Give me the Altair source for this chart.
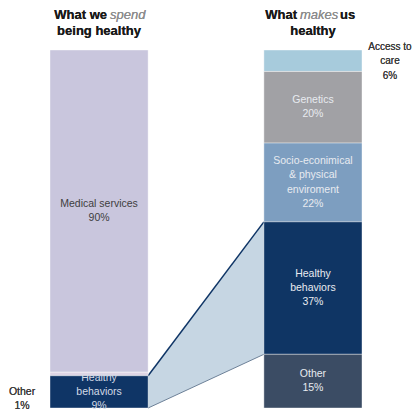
import altair as alt
import pandas as pd

# ---- data ----
left_categories = ["Medical services", "Other", "Healthy behaviors"]   # top -> bottom
left_values = [90, 1, 9]
left_labels = ["Medical services\n90%", "", "Healthy\nbehaviors\n9%"]
left_colors = ["#c9c6dd", "#ded5e5", "#0f3566"]
left_text_colors = ["#404040", "#ffffff", "#d3dbe7"]

right_categories = ["Access to care", "Genetics", "Socio-econimical & physical enviroment",
                    "Healthy behaviors", "Other"]                      # top -> bottom
right_values = [6, 20, 22, 37, 15]
right_labels = ["", "Genetics\n20%", "Socio-econimical\n& physical\nenviroment\n22%",
                "Healthy\nbehaviors\n37%", "Other\n15%"]
right_colors = ["#a7cbdc", "#a1a1a5", "#7d9ec0", "#0f3564", "#3b4c64"]

bar_pos = [0.0, 2.18]   # left edge of each bar, in bar-width units
bar_width = 1.0
LH = 14.3


def stack(cats, vals, labels, colors, x0, tcolors=None):
    rows = []
    top = sum(vals)
    for i, (c, v, l, col) in enumerate(zip(cats, vals, labels, colors)):
        rows.append(dict(cat=c, y=top - v, y2=top, mid=top - v / 2, label=l, color=col,
                         x=x0, x2=x0 + bar_width, xm=x0 + bar_width / 2,
                         nlines=(l.count("\n") + 1 if l else 0),
                         tcol=(tcolors[i] if tcolors else "#e8ebf0")))
        top -= v
    return rows


rows = stack(left_categories, left_values, left_labels, left_colors, bar_pos[0], left_text_colors)
rows += stack(right_categories, right_values, right_labels, right_colors, bar_pos[1])
df = pd.DataFrame(rows)

# connector between the two "Healthy behaviors" segments
lh = df[(df.cat == "Healthy behaviors") & (df.x == bar_pos[0])].iloc[0]
rh = df[(df.cat == "Healthy behaviors") & (df.x == bar_pos[1])].iloc[0]
conn = pd.DataFrame([
    dict(x=float(lh.x2), y=float(lh.y2), y2=float(lh.y)),
    dict(x=float(rh.x), y=float(rh.y2), y2=float(rh.y)),
])

xs = alt.Scale(domain=[0, bar_pos[1] + bar_width], range=[42, 354])
ys = alt.Scale(domain=[0, 100], range=[400, 42])
X = alt.X("x:Q", scale=xs, axis=None)
Y = alt.Y("y:Q", scale=ys, axis=None)

bars = alt.Chart(df).mark_rect(stroke="white", strokeWidth=0.4).encode(
    x=X, x2="x2:Q", y=Y, y2="y2:Q",
    color=alt.Color("color:N", scale=None),
)

area = alt.Chart(conn).mark_area(color="#c6d6e3", opacity=1).encode(x=X, y=Y, y2="y2:Q")
line_top = alt.Chart(conn).mark_line(color="#0f3566", strokeWidth=1.5).encode(x=X, y=Y)
line_bot = alt.Chart(conn).mark_line(color="#6d8198", strokeWidth=1).encode(
    x=X, y=alt.Y("y2:Q", scale=ys, axis=None))

label_layers = []
for n in sorted(set(df.nlines) - {0}):
    label_layers.append(
        alt.Chart(df[df.nlines == n]).mark_text(
            lineBreak="\n", fontSize=10.5, lineHeight=LH, font="Liberation Sans",
            baseline="middle", dy=-(n - 1) * LH / 2
        ).encode(
            x=alt.X("xm:Q", scale=xs, axis=None), y=alt.Y("mid:Q", scale=ys, axis=None),
            text="label:N", color=alt.Color("tcol:N", scale=None),
        )
    )


def annot(text, px, py, align="center", bold=False, italic=False, color="#3a3a3a", size=10.5):
    kw = dict(font="Liberation Sans", align=align, baseline="middle", fontSize=size,
              color=color)
    if "\n" in text:
        kw.update(lineBreak="\n", lineHeight=LH)
    if bold:
        kw["fontWeight"] = "bold"
    if italic:
        kw["fontStyle"] = "italic"
    return alt.Chart(conn).mark_text(**kw).encode(
        x=alt.value(px), y=alt.value(py), text=alt.value(text))


annots = [
    annot("Access to\ncare\n6%", 382, 39, size=10),
    annot("Other\n1%", 14, 384),
    annot("What we", 99, 7, align="right", bold=True, color="#1a1a1a", size=13),
    annot("spend", 102, 7, align="left", italic=True, color="#8c8c8c", size=13),
    annot("being healthy", 91, 22.5, bold=True, color="#1a1a1a", size=13),
    annot("What", 289, 7, align="right", bold=True, color="#1a1a1a", size=13),
    annot("makes", 292, 7, align="left", italic=True, color="#8c8c8c", size=13),
    annot("us", 332, 7, align="left", bold=True, color="#1a1a1a", size=13),
    annot("healthy", 305, 22.5, bold=True, color="#1a1a1a", size=13),
]

chart = alt.layer(area, line_bot, line_top, bars, *label_layers, *annots).properties(
    width=404, height=402, padding=0, autosize=alt.AutoSizeParams(type="none")
).configure_view(stroke=None)

chart.save("out.html", embed_options={"renderer": "svg", "actions": False})
